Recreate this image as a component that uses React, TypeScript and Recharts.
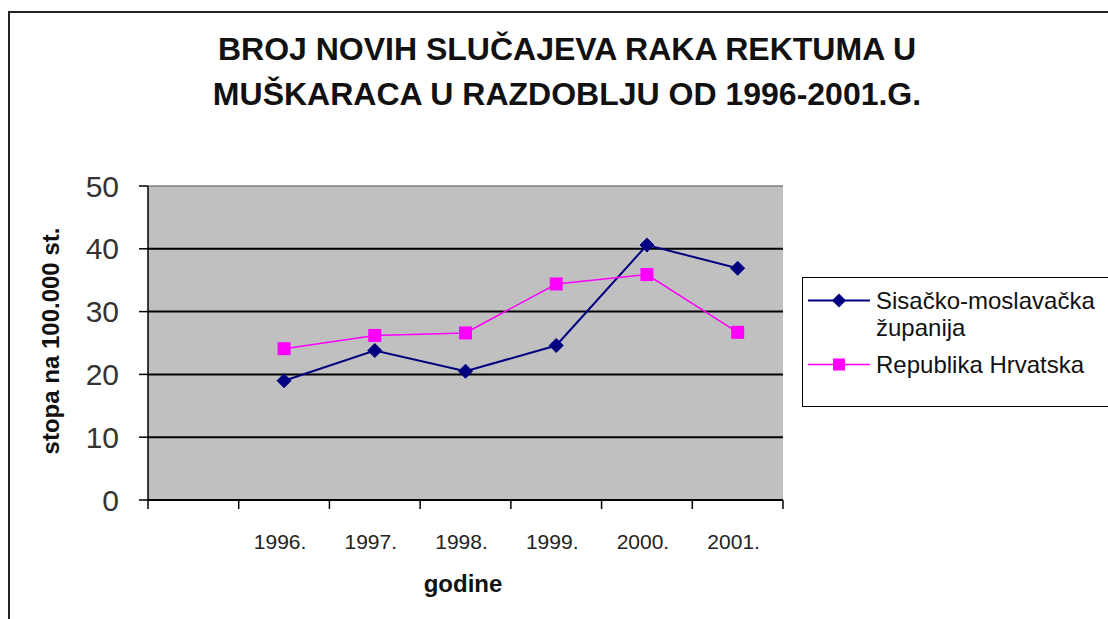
import React from 'react'
import { LineChart, Line, XAxis, YAxis, CartesianGrid } from 'recharts'

const CATEGORIES = ['', '1996.', '1997.', '1998.', '1999.', '2000.', '2001.']
const SISAK = [null, 19.0, 23.8, 20.5, 24.6, 40.6, 36.9]
const HRVATSKA = [null, 24.1, 26.2, 26.6, 34.4, 35.9, 26.7]
const Y_TICKS = [0, 10, 20, 30, 40, 50]
const SERIES_NAMES = ['Sisačko-moslavačka županija', 'Republika Hrvatska']

// svg origin sits at page (10, 13)
const W = 1098
const H = 606
const PLOT = { left: 138, top: 173, width: 635, height: 314 }
const BAND = PLOT.width / CATEGORIES.length
const FONT = '"Liberation Sans", Arial, sans-serif'
const NAVY = '#000080'
const PINK = '#ff00ff'

const data = CATEGORIES.map((c, i) => ({ name: c, sisak: SISAK[i], hr: HRVATSKA[i] }))

function XTick(props: any) {
  const { x, y, payload, index } = props
  const last = index === CATEGORIES.length - 1
  return (
    <g>
      <line x1={x - BAND / 2} x2={x - BAND / 2} y1={y} y2={y + 9} stroke="#000" strokeWidth={1.5} />
      {last && <line x1={x + BAND / 2} x2={x + BAND / 2} y1={y} y2={y + 9} stroke="#000" strokeWidth={1.5} />}
      <text x={x - 4} y={y + 49} textAnchor="middle" fontSize={21} fill="#222" fontFamily={FONT}>
        {payload.value}
      </text>
    </g>
  )
}

function Diamond(props: any) {
  const { cx, cy, index } = props
  if (cx == null || cy == null || props.value == null) return <g key={index} />
  const r = 7
  return (
    <path key={index} d={`M${cx},${cy - r}L${cx + r},${cy}L${cx},${cy + r}L${cx - r},${cy}Z`}
      fill={NAVY} stroke={NAVY} />
  )
}

function Square(props: any) {
  const { cx, cy, index } = props
  if (cx == null || cy == null || props.value == null) return <g key={index} />
  const s = 6.5
  return <rect key={index} x={cx - s} y={cy - s} width={2 * s} height={2 * s} fill={PINK} />
}

function GridLine(props: any) {
  const { x1, x2, y1, y2 } = props
  const top = Math.abs(y1 - PLOT.top) < 1
  return <line x1={x1} x2={x2} y1={y1} y2={y2} stroke={top ? '#808080' : '#000'} strokeWidth={top ? 1.5 : 2} />
}

function LegendBox() {
  const row = (color: string, marker: 'd' | 's', lines: string[]) => (
    <div style={{ display: 'flex', alignItems: 'flex-start' }}>
      <svg width={73} height={27} style={{ flexShrink: 0 }}>
        <line x1={5} x2={67} y1={13.5} y2={13.5} stroke={color} strokeWidth={marker === 'd' ? 2 : 1.5} />
        {marker === 'd'
          ? <path d="M36,6.5L43,13.5L36,20.5L29,13.5Z" fill={color} />
          : <rect x={30} y={7.5} width={12} height={12} fill={color} />}
      </svg>
      <div style={{ lineHeight: '27px' }}>
        {lines.map(l => <div key={l}>{l}</div>)}
      </div>
    </div>
  )
  return (
    <div style={{
      position: 'absolute', left: 792, top: 264, width: 330, height: 130,
      border: '1.5px solid #000', boxSizing: 'border-box', background: '#fff',
      fontFamily: FONT, fontSize: 24, color: '#111', paddingTop: 9,
    }}>
      {row(NAVY, 'd', ['Sisačko-moslavačka', 'županija'])}
      <div style={{ height: 10 }} />
      {row(PINK, 's', [SERIES_NAMES[1]])}
    </div>
  )
}

function YLabel() {
  const cx = 40
  const cy = PLOT.top + PLOT.height / 2 - 2
  return (
    <text x={cx} y={cy} transform={`rotate(-90, ${cx}, ${cy})`} textAnchor="middle" dominantBaseline="central"
      fontSize={24} fontWeight="bold" fontFamily={FONT} fill="#111">
      stopa na 100.000 st.
    </text>
  )
}

function XLabel() {
  return (
    <text x={453} y={579} textAnchor="middle"
      fontSize={24} fontWeight="bold" fontFamily={FONT} fill="#111">
      godine
    </text>
  )
}

export default function App() {
  return (
    <div style={{
      position: 'absolute', left: 8, top: 11, width: W, height: H,
      borderLeft: '2px solid #222', borderTop: '2px solid #222', overflow: 'hidden', background: '#fff',
    }}>
      <style>{'body{overflow:hidden}'}</style>
      <div style={{
        position: 'absolute', left: 0, top: 14, width: 1114, textAlign: 'center',
        fontFamily: FONT, fontWeight: 'bold', fontSize: 32, lineHeight: '45px', color: '#111',
      }}>
        <div>BROJ NOVIH SLUČAJEVA RAKA REKTUMA U</div>
        <div>MUŠKARACA U RAZDOBLJU OD 1996-2001.G.</div>
      </div>
      <div style={{ position: 'absolute', left: 0, top: 0 }}>
        <LineChart
          width={W}
          height={H}
          data={data}
          margin={{ top: PLOT.top, right: W - PLOT.left - PLOT.width, bottom: H - PLOT.top - PLOT.height - 100, left: PLOT.left - 80 }}
        >
          <CartesianGrid fill="#c0c0c0" vertical={false} horizontal={<GridLine />} />
          <XAxis
            dataKey="name"
            height={100}
            padding={{ left: BAND / 2, right: BAND / 2 }}
            tickLine={false}
            tickSize={0}
            tickMargin={0}
            interval={0}
            axisLine={{ stroke: '#000', strokeWidth: 1.5 }}
            tick={<XTick />}
            label={<XLabel />}
          />
          <YAxis
            width={80}
            domain={[0, 50]}
            ticks={Y_TICKS}
            interval={0}
            tickSize={9}
            tickMargin={20}
            axisLine={{ stroke: '#000', strokeWidth: 1.5 }}
            tickLine={{ stroke: '#000', strokeWidth: 1.5 }}
            tick={{ fontSize: 30, fill: '#333', fontFamily: FONT }}
            label={<YLabel />}
          />
          <YAxis
            yAxisId="frame"
            orientation="right"
            width={0}
            tick={false}
            tickLine={false}
            axisLine={{ stroke: '#808080', strokeWidth: 1.5 }}
          />
          <Line
            dataKey="sisak"
            name={SERIES_NAMES[0]}
            stroke={NAVY}
            strokeWidth={2}
            dot={<Diamond />}
            activeDot={false}
            isAnimationActive={false}
          />
          <Line
            dataKey="hr"
            name={SERIES_NAMES[1]}
            stroke={PINK}
            strokeWidth={1.5}
            dot={<Square />}
            activeDot={false}
            isAnimationActive={false}
          />
        </LineChart>
      </div>
      <LegendBox />
    </div>
  )
}
